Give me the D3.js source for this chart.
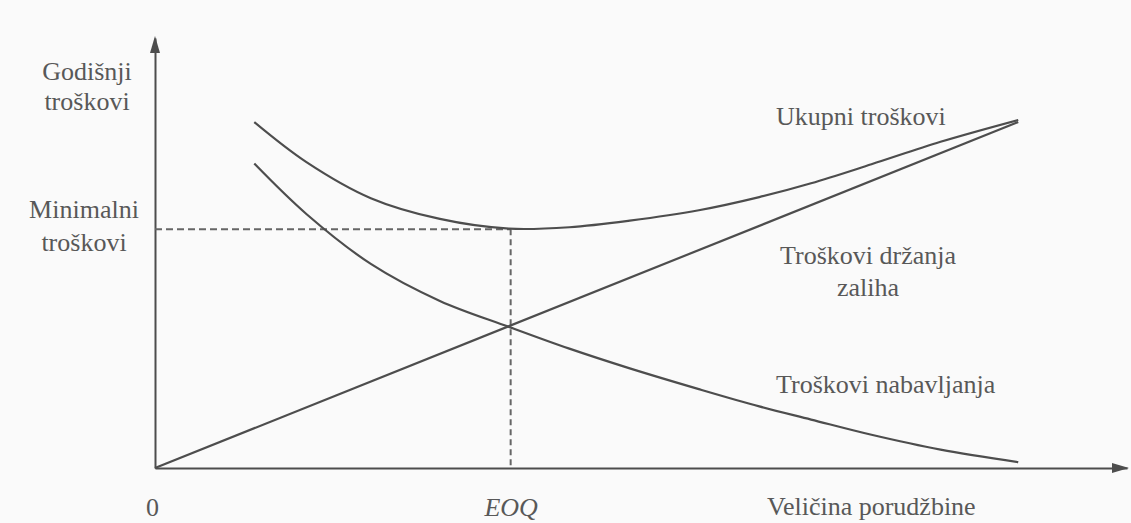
<!DOCTYPE html>
<html>
<head>
<meta charset="utf-8">
<script src="https://cdn.jsdelivr.net/npm/d3@7"></script>
<style>
  body { margin: 0; background: #fafafa; }
  svg { display: block; }
  text { font-family: "Liberation Serif", "Times New Roman", Tinos, "DejaVu Serif", Times, serif; fill: #585858; }
</style>
</head>
<body>
<div id="chart"></div>
<script>
// order quantity (0..100 = end of curves), costs in the same relative units
var quantity = [11.5, 17.5, 25, 33, 41, 48, 55, 63, 70, 76, 83, 91, 100];
var totalCost = [100, 88.5, 78, 72, 69.2, 69.6, 71.5, 74.5, 78.3, 82.3, 87.8, 94.3, 100.6];
var orderingCost = [88, 73.5, 59, 48.3, 40.8, 34.5, 28.8, 22.8, 17.8, 14, 9.6, 5.3, 1.7];
var holdingQuantity = [0, 100];
var holdingCost = [0, 100];
var eoq = 41.2;
var minCost = 69;
var xMax = 112.6, yMax = 124.3;

var width = 1131, height = 523;
var lineColor = "#4d4d4d";

var svg = d3.select("#chart").append("svg")
    .attr("width", width)
    .attr("height", height);

var x = d3.scaleLinear().domain([0, xMax]).range([155, 1127]);
var y = d3.scaleLinear().domain([0, yMax]).range([468, 38]);

// x axis with the two labels under it
var xAxis = d3.axisBottom(x)
    .tickValues([0, eoq])
    .tickSize(0)
    .tickSizeOuter(0)
    .tickPadding(30)
    .tickFormat(function (d) { return d === 0 ? "0" : "EOQ"; });

var gx = svg.append("g")
    .attr("transform", "translate(0," + y(0) + ")")
    .call(xAxis);
gx.select(".domain").attr("stroke", lineColor).attr("stroke-width", 2);
gx.selectAll(".tick text")
    .style("font-size", "26px")
    .style("font-style", function (d) { return d === 0 ? "normal" : "italic"; })
    .attr("dx", function (d) { return d === 0 ? "-3" : "0"; });

var yAxis = d3.axisLeft(y).tickValues([]).tickSizeOuter(0);
var gy = svg.append("g")
    .attr("transform", "translate(" + x(0) + ",0)")
    .call(yAxis);
gy.select(".domain").attr("stroke", lineColor).attr("stroke-width", 2);

// arrow heads
svg.append("path")
    .attr("d", "M" + x(0) + "," + (y(yMax) - 2) + "l-5,17l10,0z")
    .attr("fill", lineColor);
svg.append("path")
    .attr("d", "M" + (x(xMax) + 2) + "," + y(0) + "l-17,-5l0,10z")
    .attr("fill", lineColor);

// dashed guides
svg.append("line")
    .attr("x1", x(0)).attr("x2", x(eoq))
    .attr("y1", y(minCost)).attr("y2", y(minCost))
    .attr("stroke", "#666").attr("stroke-width", 2)
    .attr("stroke-dasharray", "7,4");
svg.append("line")
    .attr("x1", x(eoq)).attr("x2", x(eoq))
    .attr("y1", y(minCost)).attr("y2", y(0))
    .attr("stroke", "#666").attr("stroke-width", 2)
    .attr("stroke-dasharray", "6,4");

var line = d3.line()
    .x(function (d) { return x(d[0]); })
    .y(function (d) { return y(d[1]); })
    .curve(d3.curveCatmullRom.alpha(0.5));

var series = [
    d3.zip(holdingQuantity, holdingCost),
    d3.zip(quantity, orderingCost),
    d3.zip(quantity, totalCost)
];

svg.selectAll(".curve")
    .data(series)
    .enter().append("path")
    .attr("class", "curve")
    .attr("d", line)
    .attr("fill", "none")
    .attr("stroke", lineColor)
    .attr("stroke-width", 2.2);

// labels
function label(tx, ty, str, anchor) {
    svg.append("text")
        .attr("x", tx)
        .attr("y", ty)
        .attr("text-anchor", anchor || "start")
        .style("font-size", "26px")
        .text(str);
}

label(87, 80, "Godišnji", "middle");
label(87, 110, "troškovi", "middle");
label(84, 218, "Minimalni", "middle");
label(84, 251, "troškovi", "middle");

label(776, 125, "Ukupni troškovi");
label(868, 264, "Troškovi držanja", "middle");
label(868, 296, "zaliha", "middle");
label(776, 393, "Troškovi nabavljanja");
label(767, 515, "Veličina porudžbine");
</script>
</body>
</html>
